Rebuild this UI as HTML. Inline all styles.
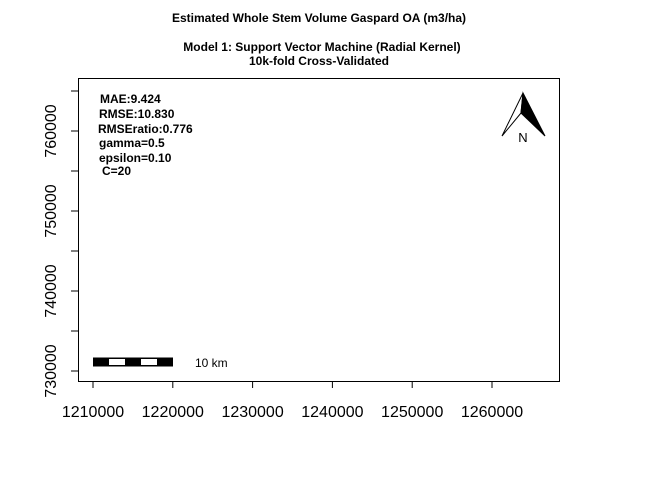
<!DOCTYPE html>
<html><head><meta charset="utf-8"><style>
html,body{margin:0;padding:0;background:#fff;}
svg{display:block;font-family:"Liberation Sans",Arial,sans-serif;}
</style></head><body>
<svg id="chart" width="672" height="480">
<text x="319" y="22" text-anchor="middle" font-size="12" font-weight="bold">Estimated Whole Stem Volume Gaspard OA (m3/ha)</text>
<text x="322" y="51" text-anchor="middle" font-size="12" font-weight="bold">Model 1: Support Vector Machine (Radial Kernel)</text>
<text x="319" y="65" text-anchor="middle" font-size="12" font-weight="bold">10k-fold Cross-Validated</text>
<rect x="78.5" y="78.5" width="481" height="303" fill="none" stroke="#000"/>
<g id="axes"></g>
<g font-size="12" font-weight="bold">
<text x="100" y="103">MAE:9.424</text>
<text x="99" y="118">RMSE:10.830</text>
<text x="98" y="133">RMSEratio:0.776</text>
<text x="99" y="147">gamma=0.5</text>
<text x="99" y="162">epsilon=0.10</text>
<text x="102" y="175">C=20</text>
</g>
<g>
<polygon points="523,93 502,136 521,113" fill="#fff" stroke="#000" stroke-width="1"/>
<polygon points="523,93 545,136 521,113" fill="#000" stroke="#000" stroke-width="1"/>
<text x="523" y="142" text-anchor="middle" font-size="13">N</text>
</g>
<g>
<rect x="93" y="357.5" width="80" height="9" fill="#000"/>
<rect x="109" y="359" width="16" height="6" fill="#fff"/>
<rect x="141" y="359" width="16" height="6" fill="#fff"/>
<text x="195" y="367" font-size="12">10 km</text>
</g>
</svg>
<script>
const xTicks=[1210000,1220000,1230000,1240000,1250000,1260000];
const yTicks=[730000,735000,740000,745000,750000,755000,760000,765000];
const yLabels=[730000,740000,750000,760000];
const sx=v=>93+(v-1210000)*79.8/10000;
const sy=v=>371-(v-730000)*80/10000;
const g=document.getElementById('axes');
const NS='http://www.w3.org/2000/svg';
function mk(t,a){const e=document.createElementNS(NS,t);for(const k in a)e.setAttribute(k,a[k]);g.appendChild(e);return e;}
xTicks.forEach(v=>{
 const l=mk('line',{x1:sx(v),x2:sx(v),y1:381,y2:388,stroke:'#000'});
 
 
 const t=mk('text',{x:sx(v),y:417,'text-anchor':'middle','font-size':16});
 t.textContent=v;
 
 
});
yTicks.forEach(v=>{
 const l=mk('line',{x1:71,x2:78,y1:sy(v),y2:sy(v),stroke:'#000'});
 
 
});
yLabels.forEach(v=>{
 const t=mk('text',{x:0,y:0,'text-anchor':'middle','font-size':16,transform:`translate(56,${sy(v)}) rotate(-90)`});
 t.textContent=v;
 
 
});
</script>
</body></html>
